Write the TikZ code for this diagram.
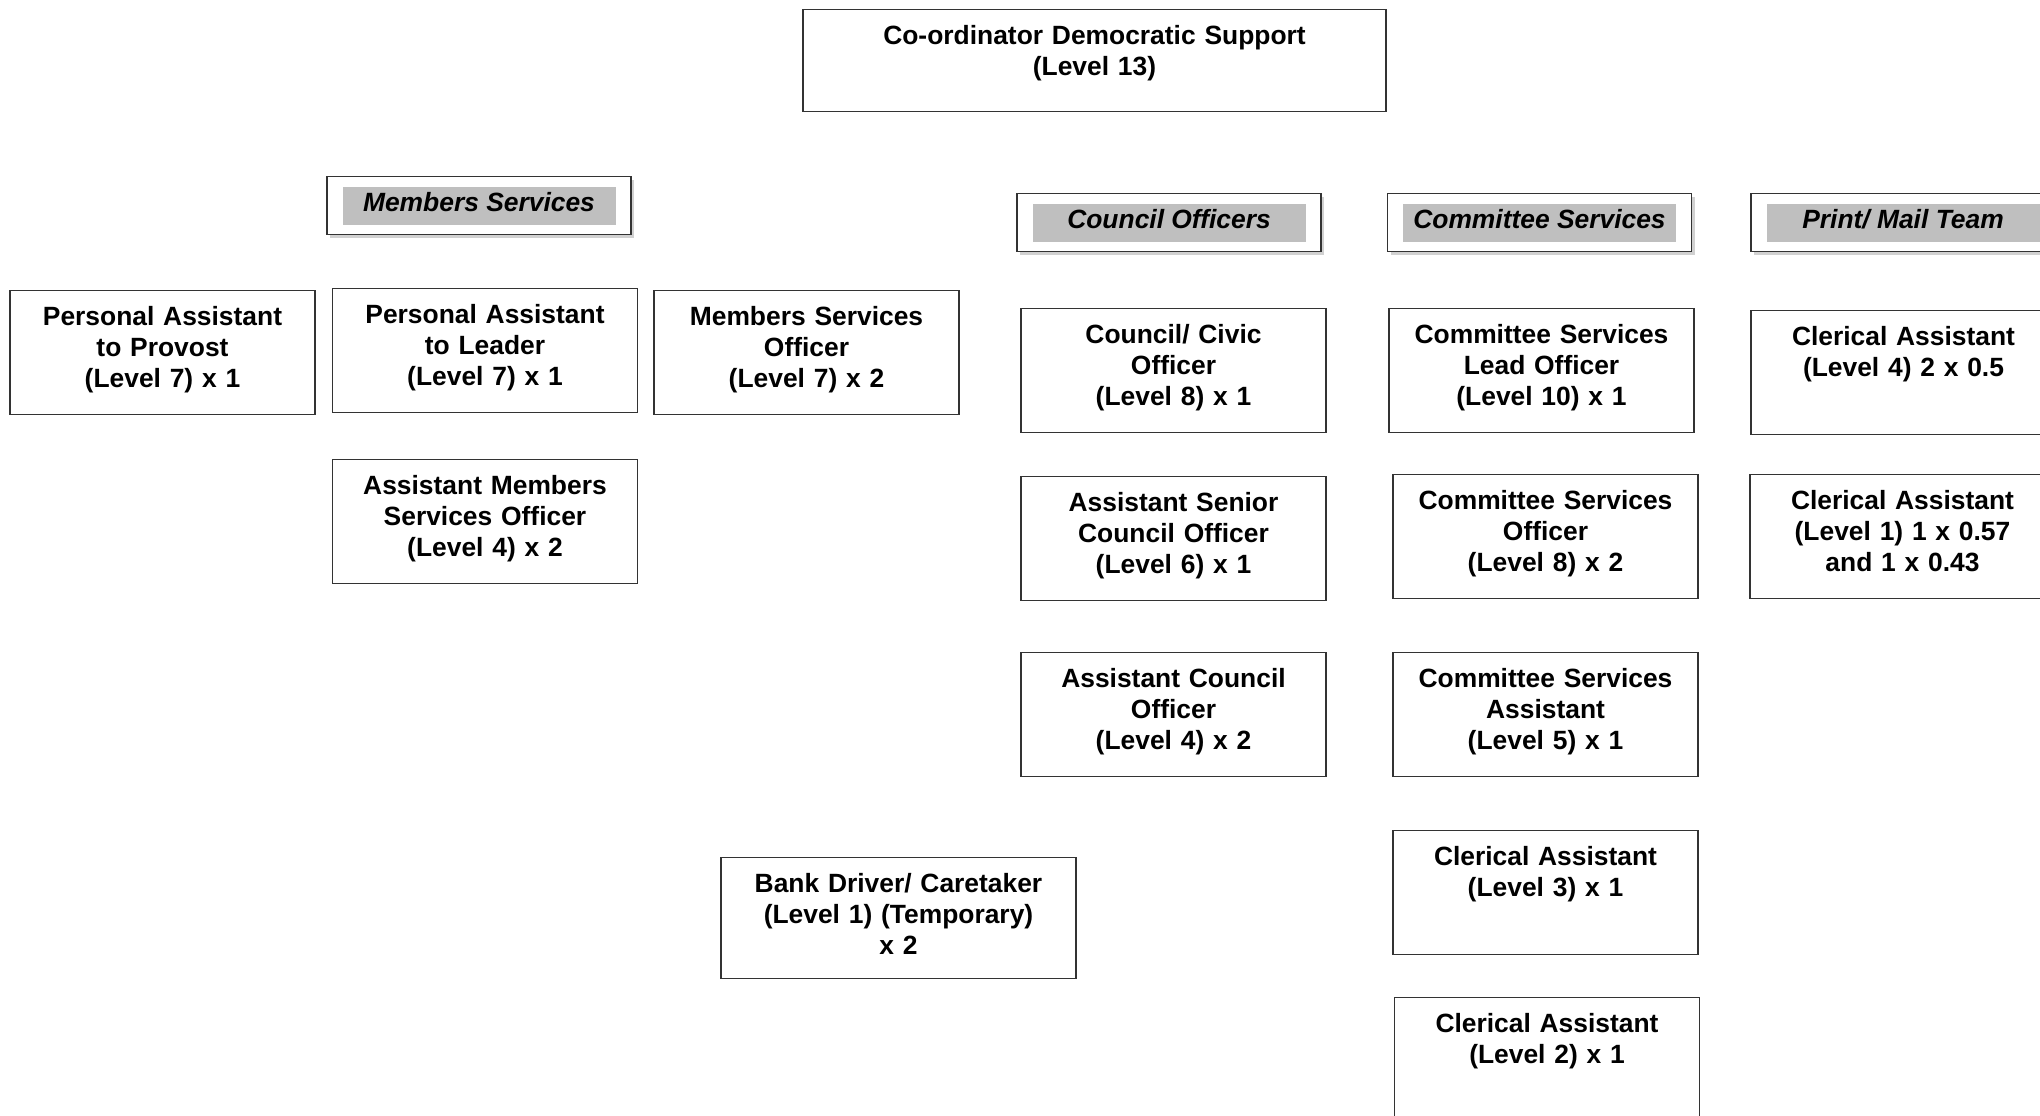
\documentclass[tikz,border=0pt]{standalone}
\usepackage{fontspec}
\setmainfont{Liberation Sans}
\usepackage{tikz}
\usetikzlibrary{
    shapes,
    positioning,
    shadows
}
\tikzset{
  basic/.style = {
      draw=black!80,
      line width=0.6pt,
      fill=white,
      font=\fontsize{13.2pt}{15.5pt}\selectfont\bfseries,
      align=center,
      anchor=north,
      inner xsep=2pt,
      inner ysep=4.5pt,
      text height=13pt
  },
  post/.style = {
      basic,
      text width=148.5pt,
      text depth=40pt
  },
  head/.style = {
      draw=black!80,
      line width=0.6pt,
      fill=white,
      anchor=north,
      minimum width=152pt,
      minimum height=29pt,
      drop shadow={shadow xshift=1.5pt, shadow yshift=-1.5pt, opacity=0.3, fill=black!60}
  },
  title/.style = {
      fill=gray!50,
      minimum width=136.5pt,
      minimum height=19pt,
      inner sep=0pt,
      text height=9.5pt,
      text depth=4pt,
      font=\fontsize{13.2pt}{15.5pt}\selectfont\bfseries\itshape
  }
}

\begin{document}
\begin{tikzpicture}[x=0.5pt, y=-0.5pt]
    \useasboundingbox (0,0) rectangle (2040,1115);
    \node[basic, text width=287.5pt, text depth=29pt] (coord) at (1094.5,9)
        {Co-ordinator Democratic Support\\(Level 13)};
    % Section headings
    \node[head] (memhead) at (479,176) {};
    \node[title] (memtitle) at (memhead.center) {Members Services};
    \node[head] (counhead) at (1169,193) {};
    \node[title] (countitle) at (counhead.center) {Council Officers};
    \node[head] (commhead) at (1539.5,193) {};
    \node[title] (commtitle) at (commhead.center) {Committee Services};
    \node[head] (printhead) at (1903,193) {};
    \node[title] (printtitle) at (printhead.center) {Print/ Mail Team};
    % Members services
    \node[post] (provostpa) at (162.5,290) {Personal Assistant\\to Provost\\(Level 7) x 1};
    \node[post] (leaderpa) at (485,288) {Personal Assistant\\to Leader\\(Level 7) x 1};
    \node[post] (memofficer) at (806.5,290) {Members Services\\Officer\\(Level 7) x 2};
    \node[post] (asstmem) at (485,459) {Assistant Members\\Services Officer\\(Level 4) x 2};
    \node[basic, text width=173.5pt, text depth=38.5pt] (bank) at (898.5,857)
        {Bank Driver/ Caretaker\\(Level 1) (Temporary)\\x 2};
    % Council officers
    \node[post] (civic) at (1173.5,308) {Council/ Civic\\Officer\\(Level 8) x 1};
    \node[post] (asstsenior) at (1173.5,476) {Assistant Senior\\Council Officer\\(Level 6) x 1};
    \node[post] (asstcouncil) at (1173.5,652) {Assistant Council\\Officer\\(Level 4) x 2};
    % Committee services
    \node[post] (leadofficer) at (1541.5,308) {Committee Services\\Lead Officer\\(Level 10) x 1};
    \node[post] (comofficer) at (1545.5,474) {Committee Services\\Officer\\(Level 8) x 2};
    \node[post] (comasst) at (1545.5,652) {Committee Services\\Assistant\\(Level 5) x 1};
    \node[post] (clerkthree) at (1545.5,830) {Clerical Assistant\\(Level 3) x 1};
    \node[post] (clerktwo) at (1547,997) {Clerical Assistant\\(Level 2) x 1};
    % Print/ mail team
    \node[post] (clerkfour) at (1903.5,310) {Clerical Assistant\\(Level 4) 2 x 0.5};
    \node[post] (clerkone) at (1902.5,474) {Clerical Assistant\\(Level 1) 1 x 0.57\\and 1 x 0.43};
\end{tikzpicture}
\end{document}
